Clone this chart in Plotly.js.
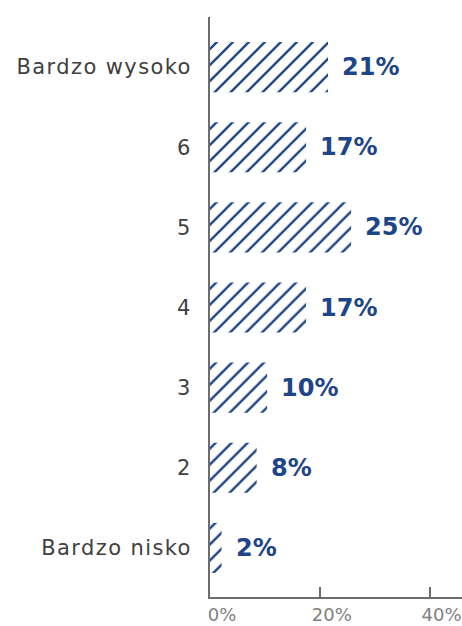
<!DOCTYPE html>
<html>
<head>
<meta charset="utf-8">
<script src="https://cdn.plot.ly/plotly-3.0.1.min.js"></script>
<style>
html,body{margin:0;padding:0;background:#fff;}
#chart{width:462px;height:626px;}
#chart .ytick text{letter-spacing:1.4px;}
</style>
</head>
<body>
<div id="chart"></div>
<script>
const categories = ["Bardzo nisko", "2", "3", "4", "5", "6", "Bardzo wysoko"];
const values = [2.1, 8.5, 10.4, 17.5, 25.7, 17.5, 21.5];
const valueLabels = ["2%", "8%", "10%", "17%", "25%", "17%", "21%"];
const xTicks = [0, 20, 40];
const xTickLabels = ["0%", "20%", "40%"];

const blue = "#1d4587";
const trace = {
  type: "bar",
  orientation: "h",
  y: categories,
  x: values,
  width: 0.625,
  marker: {
    color: "#ffffff",
    line: {width: 0},
    pattern: {shape: "/", fgcolor: blue, bgcolor: "#ffffff", size: 11.3, solidity: 0.21}
  },
  hoverinfo: "none"
};

const annotations = categories.map((c, i) => ({
  x: values[i], y: i, xref: "x", yref: "y",
  text: valueLabels[i], showarrow: false,
  xanchor: "left", yanchor: "middle", xshift: 12,
  font: {family: "DejaVu Sans, sans-serif", size: 24, color: blue, weight: 700}
}));

const layout = {
  width: 462, height: 626,
  margin: {l: 209.5, r: 0, t: 17, b: 29},
  paper_bgcolor: "#ffffff", plot_bgcolor: "#ffffff",
  showlegend: false,
  bargap: 0.375,
  xaxis: {
    range: [0, 45.9],
    tickvals: xTicks, ticktext: xTickLabels,
    ticks: "inside", ticklen: 10, tickwidth: 2, tickcolor: "#6d6d6d",
    ticklabelshift: 12, ticklabelstandoff: 0, ticklabeloverflow: "allow",
    showline: true, linecolor: "#6d6d6d", linewidth: 2,
    showgrid: false, zeroline: false,
    tickfont: {family: "DejaVu Sans, sans-serif", size: 18, color: "#808080"},
    fixedrange: true
  },
  yaxis: {
    type: "category",
    categoryorder: "array", categoryarray: categories,
    range: [-0.6125, 6.625],
    showline: true, linecolor: "#6d6d6d", linewidth: 2,
    showgrid: false, zeroline: false, ticks: "",
    ticklabelstandoff: 12,
    tickfont: {family: "DejaVu Sans, sans-serif", size: 21, color: "#404040"},
    fixedrange: true
  },
  annotations: annotations
};

Plotly.newPlot("chart", [trace], layout, {displayModeBar: false, staticPlot: true});
</script>
</body>
</html>
